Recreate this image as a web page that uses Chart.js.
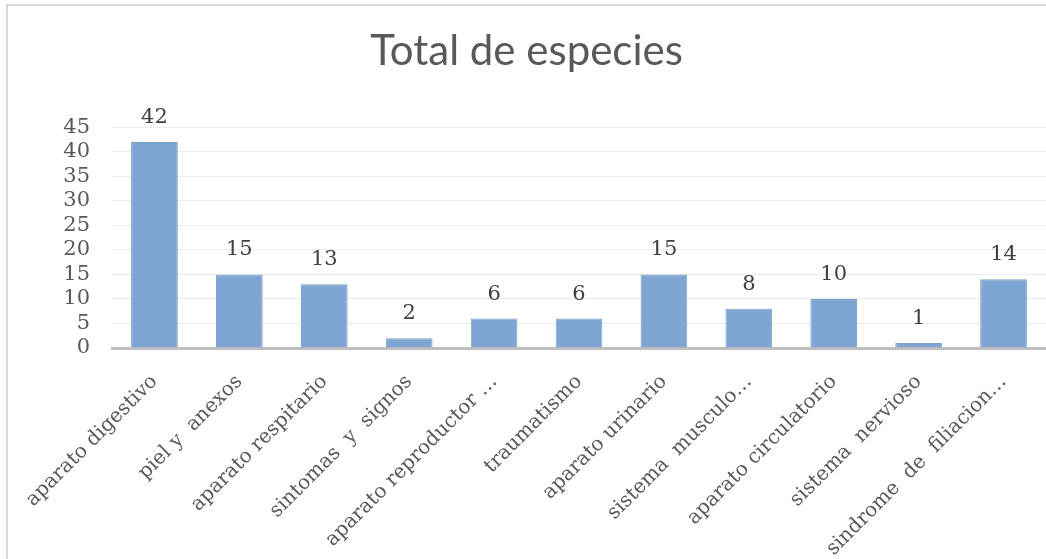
<!DOCTYPE html>
<html>
<head>
<meta charset="utf-8">
<script src="https://cdn.jsdelivr.net/npm/chart.js@4"></script>
<style>
  body { margin: 0; background: #fff; }
  .wrap { position: relative; width: 1046px; height: 559px; }
  .frame { position: absolute; left: 6px; top: 4px; right: 0; bottom: 0; border-left: 2px solid #d9d9d9; border-top: 2px solid #d9d9d9; pointer-events: none; }
</style>
</head>
<body>
<div class="wrap">
  <canvas id="especiesChart" width="1046" height="559"></canvas>
  <div class="frame"></div>
</div>
<script>
const categorias = [
  "aparato digestivo",
  "piel y  anexos",
  "aparato respitario",
  "sintomas  y  signos",
  "aparato reproductor …",
  "traumatismo",
  "aparato urinario",
  "sistema  musculo…",
  "aparato circulatorio",
  "sistema  nervioso",
  "sindrome  de  filiacion…"
];
const totales = [42, 15, 13, 2, 6, 6, 15, 8, 10, 1, 14];
const ticksY = [0, 5, 10, 15, 20, 25, 30, 35, 40, 45];

const serif = "'DejaVu Serif', serif";

// values above the bars
const valueLabels = {
  id: "valueLabels",
  afterDatasetsDraw(chart) {
    const ctx = chart.ctx;
    const meta = chart.getDatasetMeta(0);
    ctx.save();
    ctx.font = "21px " + serif;
    ctx.fillStyle = "#404040";
    ctx.textAlign = "center";
    ctx.textBaseline = "bottom";
    meta.data.forEach((bar, i) => {
      ctx.fillText(String(totales[i]), bar.x, bar.y - 14);
    });
    ctx.restore();
  }
};

new Chart(document.getElementById("especiesChart"), {
  type: "bar",
  data: {
    labels: categorias,
    datasets: [{
      data: totales,
      backgroundColor: "#7fa6d2",
      borderColor: "#7aa0cc",
      borderWidth: 1,
      barPercentage: 0.55,
      categoryPercentage: 1
    }]
  },
  plugins: [valueLabels],
  options: {
    responsive: false,
    animation: false,
    layout: {
      padding: { left: 7, right: 0, top: 5, bottom: 0 }
    },
    plugins: {
      legend: { display: false },
      tooltip: { enabled: false },
      title: {
        display: true,
        text: "Total de especies",
        color: "#595959",
        font: { family: "Lato, 'Open Sans', sans-serif", size: 42, weight: "normal" },
        padding: { top: 21, bottom: 51 }
      }
    },
    scales: {
      x: {
        grid: { display: false },
        border: { color: "#bfbfbf", width: 3 },
        ticks: {
          autoSkip: false,
          maxRotation: 45,
          minRotation: 45,
          padding: 14,
          color: "#595959",
          font: { family: serif, size: 20 }
        },
        afterFit: (scale) => { scale.height = 211; }
      },
      y: {
        min: 0,
        max: 45,
        afterBuildTicks: (scale) => { scale.ticks = ticksY.map(v => ({ value: v })); },
        grid: { color: "#ececec", lineWidth: 1, drawTicks: false },
        border: { display: false },
        ticks: {
          autoSkip: false,
          padding: 22,
          color: "#595959",
          font: { family: serif, size: 21, lineHeight: 1 }
        },
        afterFit: (scale) => { scale.width = 105; }
      }
    }
  }
});
</script>
</body>
</html>
